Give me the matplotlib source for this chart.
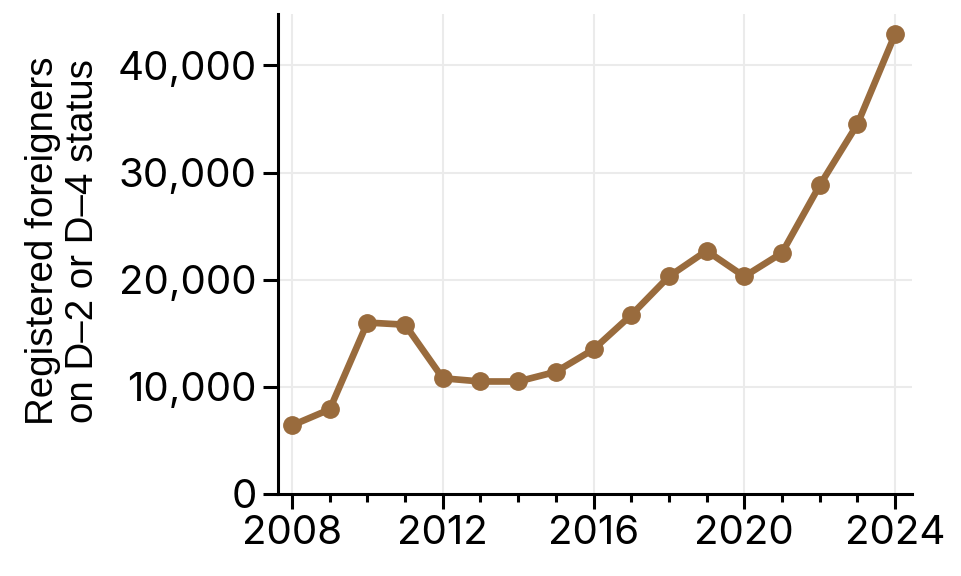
import matplotlib
matplotlib.use("Agg")
import matplotlib.pyplot as plt
from matplotlib.ticker import MultipleLocator, FuncFormatter

years = [2008, 2009, 2010, 2011, 2012, 2013, 2014, 2015, 2016,
         2017, 2018, 2019, 2020, 2021, 2022, 2023, 2024]
registered = [6400, 7900, 16000, 15800, 10800, 10500, 10500, 11400, 13500,
              16700, 20300, 22700, 20300, 22500, 28800, 34500, 42900]

color = "#996b3d"

fig = plt.figure(figsize=(9.62, 5.76), dpi=100)
ax = fig.add_axes([0.2887, 0.1424, 0.948 - 0.2887, 0.9757 - 0.1424])

ax.plot(years, registered, color=color, lw=4.8, marker="o", ms=12.5, zorder=3,
        solid_capstyle="round")

ax.set_xlim(2007.62, 2024.45)
ax.set_ylim(0, 44800)
ax.xaxis.set_major_locator(MultipleLocator(4))
ax.xaxis.set_minor_locator(MultipleLocator(1))
ax.yaxis.set_major_locator(MultipleLocator(10000))
ax.yaxis.set_major_formatter(FuncFormatter(lambda v, p: f"{int(v):,}"))

ax.grid(True, which="major", color="#ebebeb", lw=1.5, zorder=0)
for s in ["top", "right"]:
    ax.spines[s].set_visible(False)
for s in ["left", "bottom"]:
    ax.spines[s].set_linewidth(2.2)

ax.tick_params(axis="both", which="major", length=11, width=2.2,
               labelsize=29, pad=4)
ax.tick_params(axis="x", which="minor", length=6, width=2.2)
for lab in ax.get_xticklabels() + ax.get_yticklabels():
    lab.set_fontfamily("Inter")

ax.set_ylabel("Registered foreigners\non D\u20132 or D\u20134 status",
              fontsize=27.7, family="Liberation Sans", linespacing=1.15)
ax.yaxis.set_label_coords(-0.278, 0.527)

fig.savefig("out.png", dpi=100)
